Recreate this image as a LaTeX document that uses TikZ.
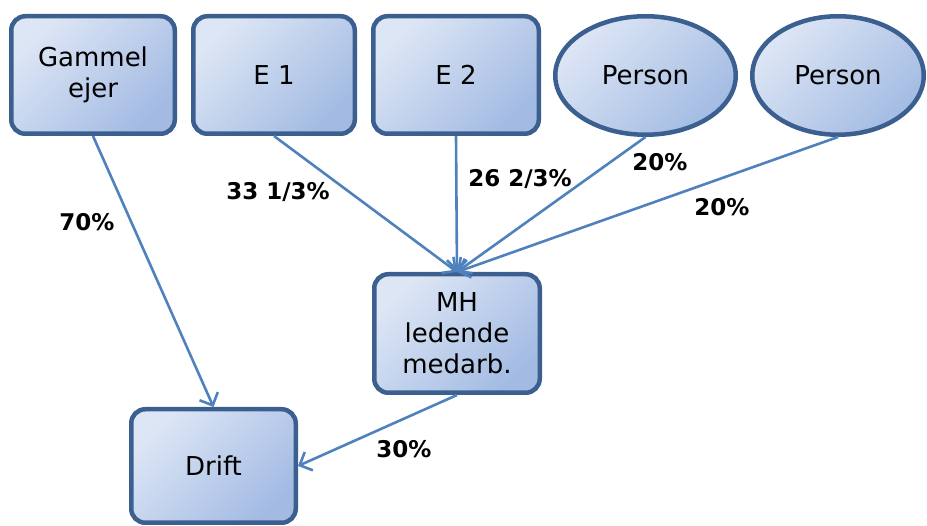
\documentclass[tikz,border=0pt]{standalone}
\usepackage{fontspec}
\setmainfont{DejaVu Sans}
\usetikzlibrary{shapes.geometric,arrows.meta}
\definecolor{boxlight}{HTML}{DDE6F5}
\definecolor{boxdark}{HTML}{A3BBE3}
\definecolor{boxedge}{HTML}{3B608F}
\definecolor{linkblue}{HTML}{4F81BD}
\tikzset{
  entity/.style={draw=boxedge, line width=4.5pt, rounded corners=14pt,
    top color=boxlight, bottom color=boxdark, shading angle=45,
    align=center, inner sep=2pt,
    font=\fontsize{26}{31}\selectfont},
  owner/.style={entity, rounded corners=0pt, ellipse, inner sep=0pt},
  share/.style={draw=linkblue, line width=2.6pt,
    -{Straight Barb[length=10pt,width=20pt,line width=2.6pt]}},
  pct/.style={font=\fontsize{23}{27}\selectfont\bfseries, inner sep=0pt}
}
\begin{document}
\begin{tikzpicture}
\useasboundingbox (0,0) rectangle (927pt,-526pt);
\begin{scope}[x=1pt,y=1pt]
  % owners
  \node[entity, minimum width=163.5pt, minimum height=117.5pt] (gammel) at (93,-75) {Gammel\\ejer};
  \node[entity, minimum width=161.5pt, minimum height=117.5pt] (e1) at (274,-75) {E 1};
  \node[entity, minimum width=165.5pt, minimum height=117.5pt] (e2) at (456,-75) {E 2};
  \node[owner, minimum width=180.5pt, minimum height=118.5pt] (p1) at (645.5,-75.5) {Person};
  \node[owner, minimum width=171.5pt, minimum height=118.5pt] (p2) at (838,-75.5) {Person};
  % owned companies
  \node[entity, minimum width=165.5pt, minimum height=118.5pt] (mh) at (457,-333.5) {MH\\ledende\\medarb.};
  \node[entity, minimum width=164.5pt, minimum height=113.5pt] (drift) at (213.5,-466) {Drift};
  % ownership links
  \draw[share] (gammel.south) -- (drift.north);
  \draw[share] (e1.south) -- (mh.north);
  \draw[share] (e2.south) -- (mh.north);
  \draw[share] (p1.south) -- (mh.north);
  \draw[share] (p2.south) -- (mh.north);
  \draw[share] (mh.south) -- (drift.east);
  % share labels
  \node[pct] (l70) at (87,-222) {70\%};
  \node[pct] (l33) at (278,-192) {33 1/3\%};
  \node[pct] (l26) at (520,-179) {26 2/3\%};
  \node[pct] (l20a) at (660,-162) {20\%};
  \node[pct] (l20b) at (722,-207) {20\%};
  \node[pct] (l30) at (404,-449) {30\%};
\end{scope}
\end{tikzpicture}
\end{document}
